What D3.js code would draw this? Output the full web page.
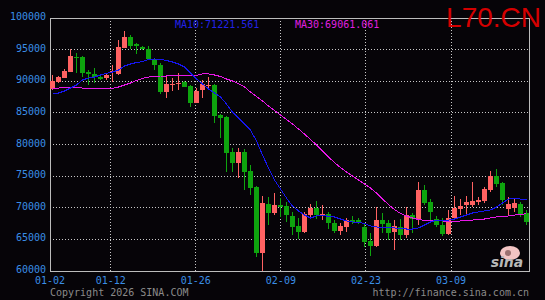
<!DOCTYPE html>
<html>
<head>
<meta charset="utf-8">
<script src="https://cdn.jsdelivr.net/npm/d3@7"></script>
<style>
body { margin: 0; background: #060408; }
svg { display: block; }
</style>
</head>
<body>
<div id="chart"></div>
<script>
// daily candles, 01-02 .. end of March
var opens  = [88730,89930,90560,91460,93910,93830,91510,91100,90720,90470,
              91420,91150,95300,97040,95840,95460,95050,93520,92570,88350,
              89490,89570,89830,89250,86610,88620,89300,89410,84660,84300,
              78770,77030,78860,75810,73230,62890,70590,69220,70440,70280,
              68700,67120,66210,68850,70010,68700,68970,67540,66320,67000,
              68060,68000,66910,64790,63950,68060,67640,66170,67000,65690,
              68900,68060,72810,70960,68220,67270,65850,68330,69760,70440,
              70440,70960,71070,72810,75020,73960,69800,69960,70590,69120];
var highs  = [90990,90830,91940,95050,94510,93990,91780,92050,90990,91300,
              92570,96520,97940,97360,96000,95570,95570,93680,92890,90720,
              90560,91350,90040,89410,88930,90200,90620,89570,84820,84510,
              79450,79450,79290,76760,73440,71860,71650,72380,71590,70960,
              69380,68330,69380,70590,71070,70440,69280,68060,67540,68380,
              68740,68380,67540,65960,70170,69120,68060,68060,68170,70120,
              69220,74070,73600,71380,68700,68330,69650,71910,71380,71910,
              74120,71650,73330,75860,76130,74120,71750,71380,70910,69650];
var lows   = [88620,89720,90510,91400,91260,90720,89410,89680,90200,90200,
              89930,90990,95260,95050,94260,94940,93360,91780,87940,87300,
              88460,88620,89090,85980,86560,87300,88620,83350,81080,75700,
              75700,74660,72810,72020,62260,60050,67270,68850,68590,67800,
              65690,65010,65960,68590,68170,68060,66590,65960,65690,66210,
              67430,67430,63840,62370,63750,65960,64900,63320,64900,65220,
              65960,67270,70440,67800,66960,65530,65690,68060,68850,68850,
              70170,70440,70700,72540,73230,70440,68850,69380,68540,67270];
var closes = [90040,90670,91620,93990,93760,91350,91150,90720,90400,90990,
              91670,95420,97040,95570,95570,95100,93520,92570,88350,89570,
              89600,89680,89140,86610,88510,89520,89410,84550,84240,78700,
              77030,78770,75700,73170,62890,70700,69220,70440,70170,68850,
              67000,66210,68970,70010,68850,68970,67540,66320,67120,68060,
              67700,67720,64630,63950,68060,67380,65960,67120,65690,68850,
              68220,72810,70750,69380,67270,65850,68330,70010,70280,70960,
              71070,71230,72970,75020,73760,71230,70590,70750,68850,67800];

// moving averages
var ma10 = [87980,88140,88460,88930,89410,90200,90510,90670,90990,91230,
            91460,91780,92410,92730,92960,93120,93440,93520,93440,93280,
            93040,92730,92250,91300,90360,89570,88780,88140,87510,86400,
            85140,84190,83240,82290,80550,78340,76290,74390,72970,71540,
            70280,69490,68850,68380,68700,68850,68620,68540,68220,67910,
            67750,67670,67510,67120,66960,66800,66800,66800,66720,66640,
            66640,66800,67270,67750,68060,68060,68060,68220,68540,68850,
            69170,69330,69490,69650,70120,70750,71380,71460,71380,71230];
var ma30 = [88850,88930,89010,89010,89010,88930,88890,88890,88890,88890,
            88890,89090,89410,89720,90120,90440,90670,90750,90830,90830,
            90880,90880,90880,90880,90910,91150,91150,90990,90750,90360,
            90040,89640,89090,88300,87590,86880,86090,85380,84660,83950,
            83240,82450,81660,80790,79920,78970,78020,77150,76360,75650,
            75020,74390,73760,73120,72330,71380,70510,69720,69090,68700,
            68380,68140,68020,67950,67980,67910,67830,67830,67910,67980,
            68060,68140,68220,68380,68540,68620,68700,68850,68930,69060];

var yTicks = [60000,65000,70000,75000,80000,85000,90000,95000,100000];
var dateLabels  = ["01-02","01-12","01-26","02-09","02-23","03-09"];
var dateOffsets = [0,10,24,38,52,66];

var width = 545, height = 300;
var plotLeft = 50, plotRight = 530, plotTop = 18, plotBottom = 271;
var mono = "'DejaVu Sans Mono', monospace";

var svg = d3.select('#chart').append('svg')
	.attr('width', width)
	.attr('height', height);

svg.append('rect')
	.attr('width', width)
	.attr('height', height)
	.attr('fill', '#060408');

var x = d3.scaleBand()
	.domain(d3.range(opens.length))
	.range([plotLeft, plotRight])
	.paddingInner(1/6)
	.paddingOuter(1/12)
	.align(0);

// date grid follows calendar days
var xDate = d3.scaleLinear()
	.domain([0, 79])
	.range([plotLeft, plotRight]);

var y = d3.scaleLinear()
	.domain([60000, 100000])
	.range([plotBottom, plotTop]);

var snap = function(v) { return Math.floor(v) + 0.5; };

// grid
var grid = svg.append('g')
	.attr('stroke', '#c8c8c8')
	.attr('stroke-dasharray', '1,2')
	.attr('shape-rendering', 'crispEdges');

grid.selectAll('.hgrid')
	.data(yTicks.slice(1, -1))
	.enter().append('line')
	.attr('x1', plotLeft).attr('x2', plotRight)
	.attr('y1', d => snap(y(d))).attr('y2', d => snap(y(d)));

grid.selectAll('.vgrid')
	.data(dateOffsets.slice(1))
	.enter().append('line')
	.attr('x1', d => snap(xDate(d))).attr('x2', d => snap(xDate(d)))
	.attr('y1', plotTop).attr('y2', plotBottom);

// frame
svg.append('rect')
	.attr('x', plotLeft + 0.5)
	.attr('y', plotTop + 0.5)
	.attr('width', plotRight - plotLeft - 1)
	.attr('height', plotBottom - plotTop - 0.5)
	.attr('fill', 'none')
	.attr('stroke', '#bcbcbc')
	.attr('shape-rendering', 'crispEdges');

// y labels
svg.selectAll('.ylab')
	.data(yTicks)
	.enter().append('text')
	.attr('x', 46)
	.attr('y', d => y(d) + 2)
	.attr('text-anchor', 'end')
	.attr('font-family', mono)
	.attr('font-size', 10)
	.attr('fill', '#3a8ee6')
	.text(d => d);

// date labels
svg.selectAll('.xlab')
	.data(dateLabels)
	.enter().append('text')
	.attr('x', (d, i) => xDate(dateOffsets[i]))
	.attr('y', 283.5)
	.attr('text-anchor', 'middle')
	.attr('font-family', mono)
	.attr('font-size', 10)
	.attr('fill', '#3a8ee6')
	.text(d => d);

// candles
var candles = svg.append('g')
	.attr('shape-rendering', 'crispEdges');

var idx = d3.range(opens.length);
var colorOf = function(i) { return closes[i] >= opens[i] ? '#ff6262' : '#0ea40e'; };

candles.selectAll('.wick')
	.data(idx)
	.enter().append('line')
	.attr('x1', i => x(i) + 2.5).attr('x2', i => x(i) + 2.5)
	.attr('y1', i => y(highs[i])).attr('y2', i => y(lows[i]))
	.attr('stroke', colorOf);

candles.selectAll('.body')
	.data(idx)
	.enter().append('rect')
	.attr('x', i => x(i))
	.attr('width', x.bandwidth())
	.attr('y', i => y(Math.max(opens[i], closes[i])))
	.attr('height', i => Math.max(1, Math.abs(y(opens[i]) - y(closes[i]))))
	.attr('fill', colorOf);

// moving average lines, aliased like the original
var maLine = d3.line()
	.x((d, i) => x(i) + 2.5)
	.y(d => y(d));

svg.append('path')
	.attr('d', maLine(ma30))
	.attr('fill', 'none')
	.attr('stroke', '#e818e8')
	.attr('stroke-width', 1)
	.attr('shape-rendering', 'crispEdges');

svg.append('path')
	.attr('d', maLine(ma10))
	.attr('fill', 'none')
	.attr('stroke', '#1616f0')
	.attr('stroke-width', 1)
	.attr('shape-rendering', 'crispEdges');

// legend texts
svg.append('text')
	.attr('x', 175).attr('y', 27.5)
	.attr('font-family', mono).attr('font-size', 10)
	.attr('fill', '#2323e8')
	.text('MA10:71221.561');

svg.append('text')
	.attr('x', 295).attr('y', 27.5)
	.attr('font-family', mono).attr('font-size', 10)
	.attr('fill', '#e020e0')
	.text('MA30:69061.061');

svg.append('text')
	.attr('x', 541).attr('y', 26.7)
	.attr('text-anchor', 'end')
	.attr('font-family', "'Liberation Sans', Arial, sans-serif")
	.attr('font-size', 28)
	.attr('fill', '#d40000')
	.text('L70.CN');

// footer
svg.append('text')
	.attr('x', 50).attr('y', 295.5)
	.attr('font-family', mono).attr('font-size', 10)
	.attr('fill', '#8a8a8a')
	.text('Copyright 2026 SINA.COM');

svg.append('text')
	.attr('x', 529).attr('y', 295.5)
	.attr('text-anchor', 'end')
	.attr('font-family', mono).attr('font-size', 10)
	.attr('fill', '#8a8a8a')
	.text('http://finance.sina.com.cn');

// sina logo
var logo = svg.append('g');
logo.append('ellipse')
	.attr('cx', 510).attr('cy', 253)
	.attr('rx', 10).attr('ry', 7)
	.attr('fill', '#f2c4c4');
logo.append('circle')
	.attr('cx', 508).attr('cy', 253)
	.attr('r', 3)
	.attr('fill', '#9a7070');
logo.append('text')
	.attr('x', 507).attr('y', 267)
	.attr('text-anchor', 'middle')
	.attr('font-family', "'DejaVu Sans', sans-serif")
	.attr('font-size', 14)
	.attr('font-weight', 'bold')
	.attr('font-style', 'italic')
	.attr('fill', '#b8b8b8')
	.text('sina');
</script>
</body>
</html>
